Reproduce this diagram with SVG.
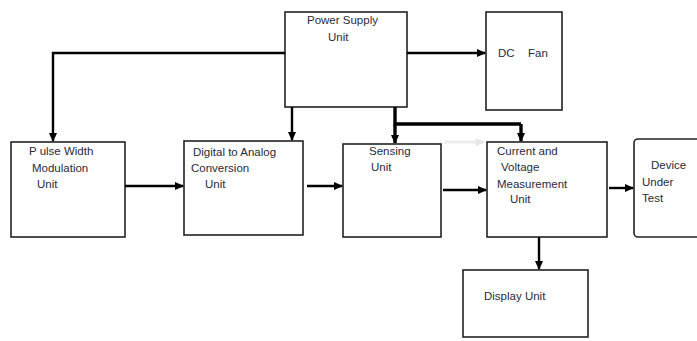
<svg xmlns="http://www.w3.org/2000/svg" width="697" height="341" viewBox="0 0 697 341">
<style>
.box{fill:#fff;stroke:#222;stroke-width:1.6}
.t{font-family:"Liberation Sans",Arial,sans-serif;font-size:11.5px;fill:#2a2a3a}
.c{fill:none;stroke:#000;stroke-width:2.4}
.bus{fill:none;stroke:#000;stroke-width:3.4}
</style>
<defs>
<marker id="ah" markerWidth="10" markerHeight="10" refX="8" refY="5" orient="auto" markerUnits="userSpaceOnUse">
<path d="M0,1 L9,5 L0,9 Z" fill="#000"/>
</marker>
<marker id="ahg" markerWidth="10" markerHeight="10" refX="8" refY="5" orient="auto" markerUnits="userSpaceOnUse">
<path d="M0,1 L9,5 L0,9 Z" fill="#e6e6e6"/>
</marker>
</defs>
<rect width="697" height="341" fill="#fff"/>
<g id="psu"><rect class="box" x="285" y="12" width="122" height="95"/>
<text class="t" x="307" y="24">Power Supply</text><text class="t" x="328" y="41">Unit</text></g>
<g id="fan"><rect class="box" x="486" y="12" width="76" height="98"/>
<text class="t" x="498" y="57">DC</text><text class="t" x="528" y="57">Fan</text></g>
<g id="pwm"><rect class="box" x="11" y="142" width="114" height="95"/>
<text class="t" x="29" y="155">P ulse Width</text><text class="t" x="32" y="172">Modulation</text><text class="t" x="37" y="188">Unit</text></g>
<g id="dac"><rect class="box" x="184" y="141" width="119" height="94"/>
<text class="t" x="193" y="156">Digital to  Analog</text><text class="t" x="191" y="172">Conversion</text><text class="t" x="205" y="188">Unit</text></g>
<g id="sensing"><rect class="box" x="343" y="144" width="98" height="93"/>
<text class="t" x="369" y="155">Sensing</text><text class="t" x="371" y="171">Unit</text></g>
<g id="cvm"><rect class="box" x="487" y="142" width="120" height="95"/>
<text class="t" x="497" y="155">Current and</text><text class="t" x="501" y="171">Voltage</text><text class="t" x="497" y="188">Measurement</text><text class="t" x="510" y="203">Unit</text></g>
<g id="dut"><rect class="box" x="634" y="139" width="70" height="98" rx="4"/>
<text class="t" x="651" y="169">Device</text><text class="t" x="642" y="186">Under</text><text class="t" x="642" y="202">Test</text></g>
<g id="display"><rect class="box" x="463" y="270" width="125" height="67"/>
<text class="t" x="484" y="300">Display Unit</text></g>
<g id="connectors">
<path class="c" d="M407,53 H485" marker-end="url(#ah)"/>
<path class="c" d="M285,53 H53 V141" marker-end="url(#ah)"/>
<path class="c" d="M292,107 V140" marker-end="url(#ah)"/>
<path class="bus" d="M395,107 V124 H521"/>
<path class="bus" d="M395,124 V143" marker-end="url(#ah)"/>
<path class="bus" d="M521,124 V141" marker-end="url(#ah)"/>
<path class="c" d="M125,186 H183" marker-end="url(#ah)"/>
<path class="c" d="M307,186 H342" marker-end="url(#ah)"/>
<path class="c" d="M443,190 H486" marker-end="url(#ah)"/>
<path class="c" d="M609,188 H633" marker-end="url(#ah)"/>
<path class="c" d="M539,237 V269" marker-end="url(#ah)"/>
<path fill="none" stroke="#ececec" stroke-width="3" d="M445,142 H484" marker-end="url(#ahg)"/>
</g>
</svg>
